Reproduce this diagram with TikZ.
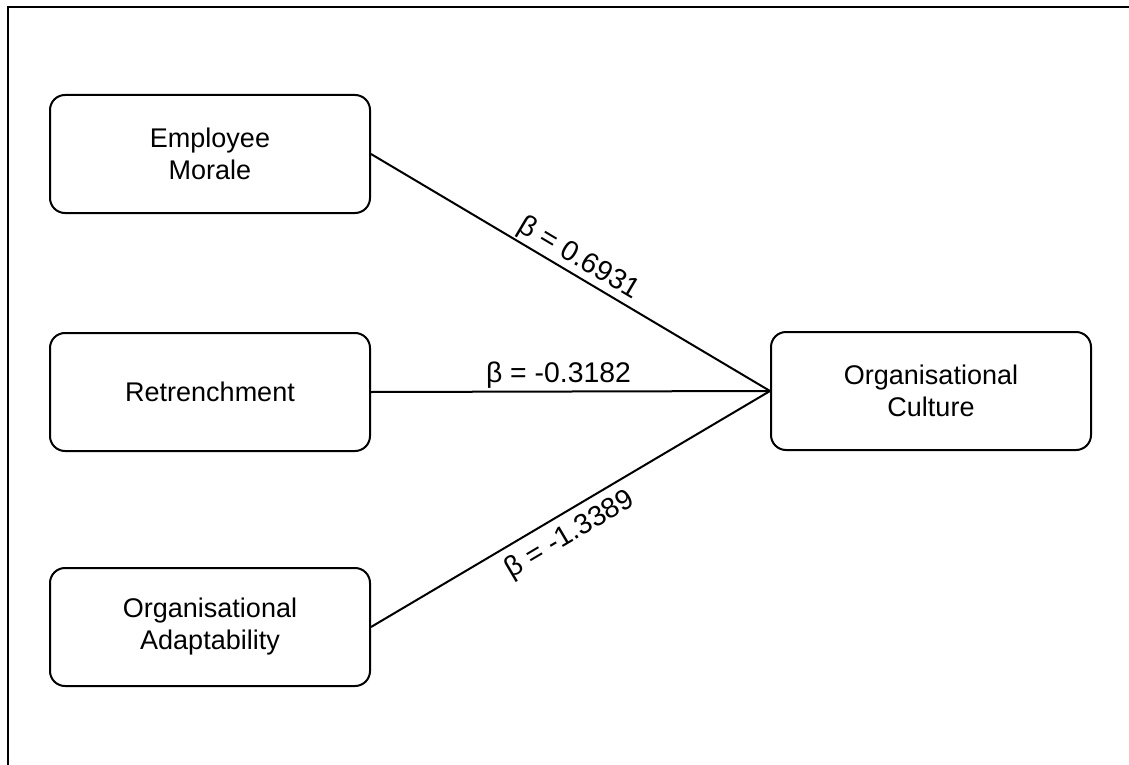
\documentclass[tikz,border=0pt]{standalone}
\usepackage{fontspec}
\setmainfont{Liberation Sans}
\usetikzlibrary{positioning}

\begin{document}
\begin{tikzpicture}[
    x=0.5pt, y=-0.5pt, % One unit is one pixel of the layout, y downwards
    varbox/.style={draw, line width=1pt, rounded corners=7.5pt, minimum width=160pt, minimum height=59pt, align=center, font=\fontsize{13.5}{16}\selectfont}, % Style for variable boxes
    path/.style={line width=1pt}, % Style for path lines
    coef/.style={sloped, font=\fontsize{14.2}{17}\selectfont, inner sep=1pt} % Style for coefficient labels
]

    % --- Page size and cropped frame ---
    \useasboundingbox (0,0) rectangle (1129,765);
    \draw[line width=1pt] (8,765) -- (8,7) -- (1129,7);

    % --- Boxes ---
    \node[varbox] (morale) at (210,154) {Employee\\Morale};
    \node[varbox] (retrench) at (210,392) {Retrenchment};
    \node[varbox] (adapt) at (210,627) {Organisational\\Adaptability};
    \node[varbox] (culture) at (931,391) {Organisational\\Culture};

    % --- Paths with coefficients ---
    \draw[path] (morale.east) -- node[coef, pos=0.5, above] {β = 0.6931} (culture.west);
    \draw[path] (retrench.east) -- node[coef, pos=0.47, above] {β = -0.3182} (culture.west);
    \draw[path] (adapt.east) -- node[coef, pos=0.47, below=3pt] {β = -1.3389} (culture.west);

\end{tikzpicture}
\end{document}
